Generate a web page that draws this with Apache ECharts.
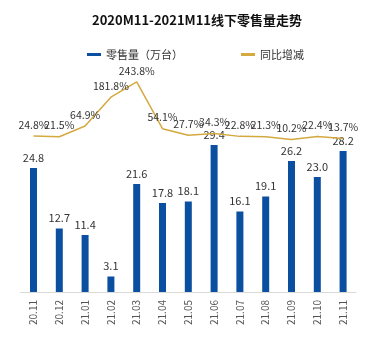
<!DOCTYPE html>
<html><head><meta charset="utf-8">
<script src="https://cdn.jsdelivr.net/npm/echarts@6/dist/echarts.min.js"></script>
<style>html,body{margin:0;padding:0;background:#fff}#c{width:365px;height:347px}</style>
</head><body><div id="c"></div>
<script>
const categories = ['20.11','20.12','21.01','21.02','21.03','21.04','21.05','21.06','21.07','21.08','21.09','21.10','21.11'];
const sales = [24.8,12.7,11.4,3.1,21.6,17.8,18.1,29.4,16.1,19.1,26.2,23.0,28.2];
const yoy = [24.8,21.5,64.9,181.8,243.8,54.1,27.7,34.3,22.8,21.3,10.2,22.4,13.7];
const font = 'Noto Sans CJK SC';
const chart = echarts.init(document.getElementById('c'));
chart.setOption({
  animation:false,
  textStyle:{fontFamily:font},
  title:{text:'2020M11-2021M11线下零售量走势',left:192,textAlign:'center',top:9,
    textStyle:{fontSize:13,fontWeight:'bold',color:'#111',fontFamily:font}},
  legend:{top:44,left:82,itemGap:58,itemWidth:14,itemHeight:3,
    textStyle:{fontSize:11,color:'#333',fontFamily:font},
    data:[{name:'零售量（万台）',icon:'rect'},{name:'同比增减',icon:'rect'}]},
  grid:{left:20.6,right:9,top:60,bottom:55},
  xAxis:{type:'category',data:categories,
    axisLine:{lineStyle:{color:'#d9d9d9'}},axisTick:{show:false},
    axisLabel:{rotate:90,color:'#555',fontSize:10,margin:8,fontFamily:font}},
  yAxis:[{type:'value',min:0,max:46.4,show:false,splitLine:{show:false}},
         {type:'value',min:-608.3,max:332.5,show:false,splitLine:{show:false}}],
  series:[
    {name:'零售量（万台）',type:'bar',data:sales,barWidth:7,yAxisIndex:0,
     itemStyle:{color:'#0b4fa0'},
     label:{show:true,position:'top',distance:5,color:'#333',fontSize:11,
       formatter:p=>p.value.toFixed(1)}},
    {name:'同比增减',type:'line',data:yoy,yAxisIndex:1,symbol:'circle',symbolSize:0,showSymbol:true,
     lineStyle:{color:'#d4a940',width:1.5},itemStyle:{color:'#d4a940'},
     label:{show:true,position:'top',distance:6,color:'#333',fontSize:10.5,
       formatter:p=>p.value.toFixed(1)+'%'}}
  ]
});
</script></body></html>
